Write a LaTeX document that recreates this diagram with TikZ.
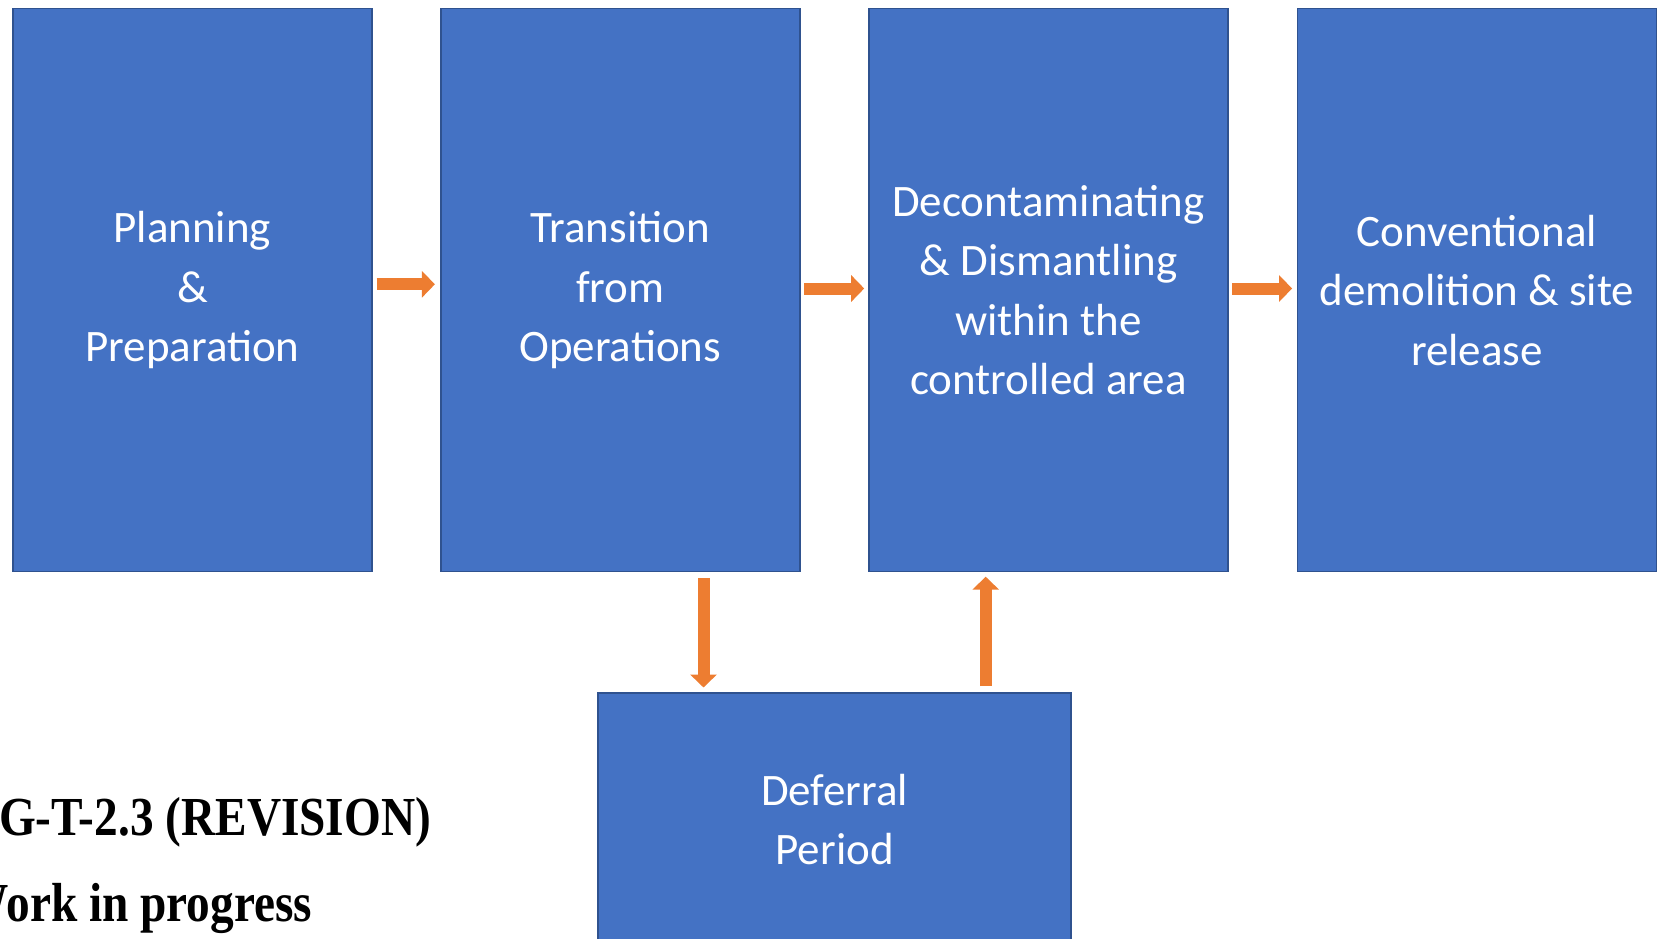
\documentclass[tikz,border=0pt]{standalone}
\usepackage{fontspec}
\setmainfont{Carlito}
\newfontfamily\serifb{Liberation Serif}
\usetikzlibrary{arrows.meta}
\definecolor{boxblue}{HTML}{4472C4}
\definecolor{boxedge}{HTML}{2F528F}
\definecolor{arrorange}{HTML}{ED7D31}
\begin{document}
\begin{tikzpicture}[x=1pt,y=-1pt,
  stage/.style={rectangle, draw=boxedge, line width=1.6pt, fill=boxblue, text=white,
    inner sep=0pt, minimum width=359pt, minimum height=563pt, align=center,
    font=\fontsize{45}{59.5}\selectfont},
  flow/.style={draw=arrorange, line width=12pt, -{Triangle[width=26pt,length=13pt]}},
  note/.style={font=\serifb\bfseries\fontsize{55}{66}\selectfont, xscale=0.86,
    transform shape, anchor=base west, inner sep=0pt}
]
\useasboundingbox (0,0) rectangle (1660,939);
\clip (0,0) rectangle (1660,939);

\node[stage] (b1) at (192.4,290.1) {Planning\\\&\\Preparation};
\node[stage] (b2) at (620.2,290.1) {Transition\\from\\Operations};
\node[stage] (b3) at (1048.5,290.1) {Decontaminating\\\& Dismantling\\within the\\controlled area};
\node[stage] (b4) at (1477,290.1) {Conventional\\demolition \& site\\release};
\node[stage, minimum width=473pt, minimum height=253pt] (d) at (834.6,819.5) {Deferral\\Period};

\draw[flow] ([xshift=4pt,yshift=5.8pt]b1.east) -- ([xshift=-5pt,yshift=5.8pt]b2.west);
\draw[flow] ([xshift=3.8pt,yshift=1.6pt]b2.east) -- ([xshift=-4pt,yshift=1.6pt]b3.west);
\draw[flow] ([xshift=3.5pt,yshift=1.6pt]b3.east) -- ([xshift=-4.6pt,yshift=1.6pt]b4.west);
\draw[flow] ([xshift=83.3pt,yshift=-5.6pt]b2.south) -- ([xshift=83.3pt,yshift=4.7pt]d.north -| b2.south);
\draw[flow] ([xshift=151.1pt,yshift=6pt]d.north) -- ([xshift=151.1pt,yshift=-4.3pt]b3.south -| d.north);

\node[note] (rev) at (-1,835) {G-T-2.3 (REVISION)};
\node[note] (wip) at (-38.5,921.5) {Work in progress};
\end{tikzpicture}
\end{document}
